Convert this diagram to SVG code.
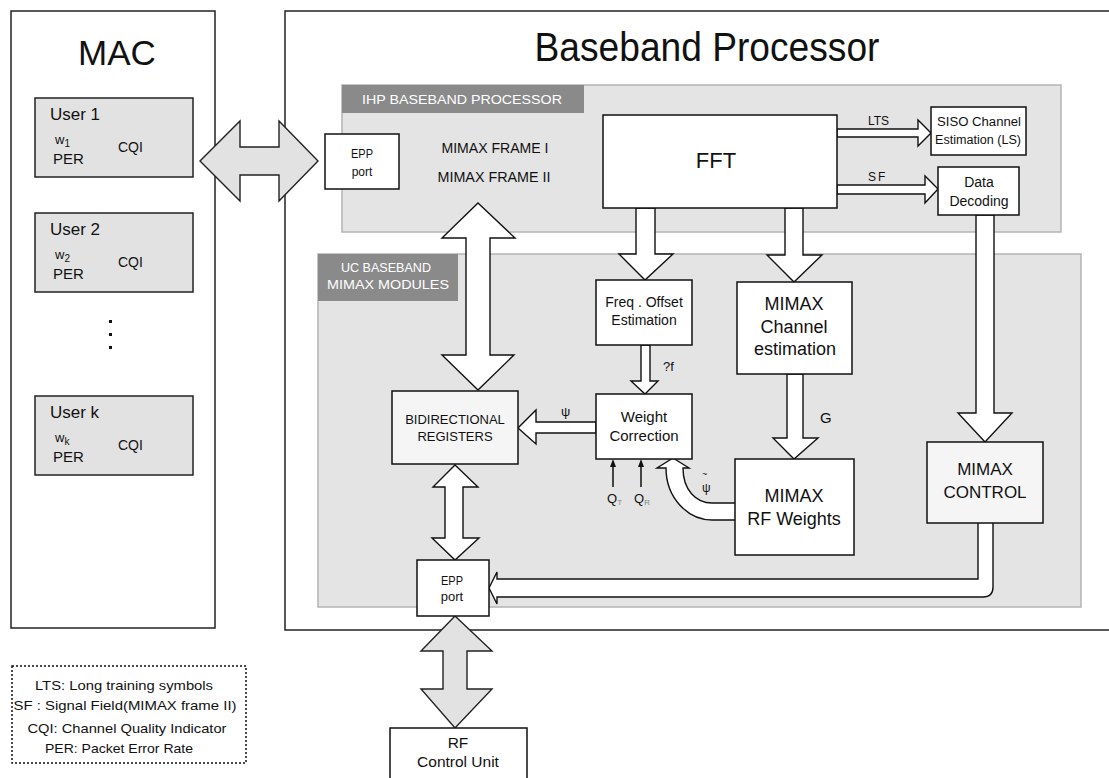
<svg xmlns="http://www.w3.org/2000/svg" width="1109" height="778" viewBox="0 0 1109 778">
  <style>
    text { font-family: "Liberation Sans", Arial, sans-serif; fill: #111; }
    .box { fill: #fff; stroke: #111; stroke-width: 1.5; }
    .soft { fill: #f5f5f5; stroke: #111; stroke-width: 1.5; }
    .user { fill: #e2e2e2; stroke: #222; stroke-width: 1.5; }
    .panel { fill: #e4e4e4; stroke: #b4b4b4; stroke-width: 1.5; }
    .band { fill: #8a8a8a; }
    .band-t { fill: #fff; font-size: 13px; }
    .arrow { fill: #fff; stroke: #111; stroke-width: 1.4; stroke-linejoin: miter; }
    .garrow { fill: #e2e2e2; stroke: #222; stroke-width: 1.4; }
    .c { text-anchor: middle; }
  </style>
  <defs>
    <marker id="tip" markerWidth="8" markerHeight="8" refX="4" refY="4" orient="auto" markerUnits="userSpaceOnUse">
      <path d="M0,1 L8,4 L0,7 Z" fill="#111"/>
    </marker>
  </defs>

  <!-- MAC column -->
  <g id="mac">
    <rect x="11" y="11" width="204" height="617" fill="#fff" stroke="#222" stroke-width="1.5"/>
    <text x="117" y="65" class="c" font-size="35">MAC</text>
  </g>
  <g id="user1">
    <rect class="user" x="35" y="98" width="158" height="79"/>
    <text x="50" y="120" font-size="17">User 1</text>
    <text x="55" y="144" font-size="13">w<tspan font-size="10" dy="3">1</tspan></text>
    <text x="53" y="164" font-size="15">PER</text>
    <text x="118" y="152" font-size="14">CQI</text>
  </g>
  <g id="user2">
    <rect class="user" x="35" y="213" width="158" height="79"/>
    <text x="50" y="235" font-size="17">User 2</text>
    <text x="55" y="259" font-size="13">w<tspan font-size="10" dy="3">2</tspan></text>
    <text x="53" y="279" font-size="15">PER</text>
    <text x="118" y="267" font-size="14">CQI</text>
  </g>
  <g id="ellipsis" fill="#111">
    <rect x="109" y="320" width="3" height="3"/>
    <rect x="109" y="333" width="3" height="3"/>
    <rect x="109" y="346" width="3" height="3"/>
  </g>
  <g id="userk">
    <rect class="user" x="35" y="396" width="158" height="79"/>
    <text x="50" y="418" font-size="17">User k</text>
    <text x="55" y="442" font-size="13">w<tspan font-size="10" dy="3">k</tspan></text>
    <text x="53" y="462" font-size="15">PER</text>
    <text x="118" y="450" font-size="14">CQI</text>
  </g>

  <!-- Baseband processor frame -->
  <g id="baseband">
    <rect x="285" y="11" width="900" height="619" fill="#fff" stroke="#222" stroke-width="1.5"/>
    <text x="707" y="61" class="c" font-size="40" textLength="345" lengthAdjust="spacingAndGlyphs">Baseband Processor</text>
  </g>
  <g id="ihp-panel">
    <rect class="panel" x="342" y="85" width="719" height="147"/>
    <rect class="band" x="342" y="85" width="242" height="28"/>
    <text class="band-t" x="362" y="104" textLength="200" lengthAdjust="spacingAndGlyphs">IHP BASEBAND PROCESSOR</text>
    <text x="495" y="153" class="c" font-size="14" textLength="107" lengthAdjust="spacingAndGlyphs">MIMAX FRAME I</text>
    <text x="494" y="182" class="c" font-size="14" textLength="113" lengthAdjust="spacingAndGlyphs">MIMAX FRAME II</text>
  </g>
  <g id="uc-panel">
    <rect class="panel" x="318" y="254" width="763" height="353"/>
    <rect class="band" x="318" y="254" width="140" height="47"/>
    <text class="band-t c" x="386" y="272" textLength="90" lengthAdjust="spacingAndGlyphs">UC BASEBAND</text>
    <text class="band-t c" x="388" y="289" textLength="122" lengthAdjust="spacingAndGlyphs">MIMAX MODULES</text>
  </g>

  <!-- Connectors -->
  <g id="connectors">
    <!-- MAC <-> EPP port -->
    <polygon class="garrow" points="200,161 240,121 240,147 279,147 279,121 318,161 279,201 279,175 240,175 240,201"/>
    <!-- EPP port (IHP) <-> bidirectional registers -->
    <polygon class="arrow" points="478,203 515,238 490,238 490,355 514,355 478,390 442,355 466,355 466,238 442,238"/>
    <!-- FFT -> LTS -> SISO -->
    <polygon class="arrow" points="837,129 918,129 918,120 931,133 918,146 918,137 837,137"/>
    <!-- FFT -> SF -> data decoding -->
    <polygon class="arrow" points="837,185 925,185 925,176 938,189 925,203 925,194 837,194"/>
    <!-- FFT -> freq offset -->
    <polygon class="arrow" points="636,208 655,208 655,254 673,254 645,280 619,254 636,254"/>
    <!-- FFT -> MIMAX channel estimation -->
    <polygon class="arrow" points="785,208 803,208 803,255 822,255 794,282 767,255 785,255"/>
    <!-- data decoding -> MIMAX control -->
    <polygon class="arrow" points="976,215 994,215 994,413 1012,413 985,442 958,413 976,413"/>
    <!-- freq offset -> weight correction -->
    <polygon class="arrow" points="641,345 650,345 650,381 658,381 645,394 631,381 641,381"/>
    <!-- channel estimation -> RF weights -->
    <polygon class="arrow" points="787,374 803,374 803,438 818,438 794,459 773,438 787,438"/>
    <!-- weight correction -> bidirectional registers -->
    <polygon class="arrow" points="596,422 536,422 536,410 518,428 536,444 536,433 596,433"/>
    <!-- RF weights -> weight correction (curved) -->
    <path class="arrow" d="M735,503 L712,503 C696,503 683,490 683,468 L689,468 L673,458 L657,468 L666,468 C666,498 688,520 712,520 L735,520"/>
    <!-- bidirectional registers <-> EPP port (bottom) -->
    <polygon class="arrow" points="455,465 478,487 463,487 463,538 479,538 455,560 432,538 445,538 445,487 433,487"/>
    <!-- MIMAX control -> EPP port (bottom) -->
    <path class="arrow" d="M978,523 L978,579 L497,579 L497,572 L489,588 L497,604 L497,597 L983,597 Q993,597 993,587 L993,523"/>
    <!-- EPP port <-> RF control unit -->
    <polygon class="garrow" points="455,616 492,651 467,651 467,689 492,689 455,728 421,689 443,689 443,651 421,651"/>
    <!-- quantisation inputs -->
    <line x1="613" y1="487" x2="613" y2="463" stroke="#111" stroke-width="1.5" marker-end="url(#tip)"/>
    <line x1="641" y1="487" x2="641" y2="463" stroke="#111" stroke-width="1.5" marker-end="url(#tip)"/>
    <!-- connector labels -->
    <text x="868" y="125" font-size="12">LTS</text>
    <text x="868" y="181" font-size="12" letter-spacing="2">SF</text>
    <text x="663" y="371" font-size="13">?f</text>
    <text x="820" y="423" font-size="15">G</text>
    <text x="561" y="416" font-size="13" font-family="DejaVu Serif, serif">ψ</text>
    <text x="702" y="492" font-size="12" font-family="DejaVu Serif, serif">ψ</text>
    <text x="702" y="477" font-size="9" font-family="DejaVu Sans, sans-serif">~</text>
    <text x="607" y="503" font-size="13" fill="#333">Q<tspan font-size="8" dy="2" fill="#888">T</tspan></text>
    <text x="634" y="503" font-size="13" fill="#333">Q<tspan font-size="8" dy="2" fill="#888">R</tspan></text>
  </g>

  <!-- Blocks -->
  <g id="epp-top">
    <rect class="box" x="325" y="134" width="74" height="55"/>
    <text x="362" y="158" class="c" font-size="12" textLength="22" lengthAdjust="spacingAndGlyphs">EPP</text>
    <text x="362" y="176" class="c" font-size="12">port</text>
  </g>
  <g id="fft">
    <rect class="box" x="603" y="115" width="234" height="93"/>
    <text x="716" y="168" class="c" font-size="22">FFT</text>
  </g>
  <g id="siso">
    <rect class="box" x="931" y="107" width="95" height="48"/>
    <text x="979" y="126" class="c" font-size="12" textLength="84" lengthAdjust="spacingAndGlyphs">SISO Channel</text>
    <text x="978" y="144" class="c" font-size="12" textLength="86" lengthAdjust="spacingAndGlyphs">Estimation (LS)</text>
  </g>
  <g id="data-decoding">
    <rect class="box" x="938" y="167" width="81" height="48"/>
    <text x="979" y="187" class="c" font-size="14">Data</text>
    <text x="979" y="206" class="c" font-size="14">Decoding</text>
  </g>
  <g id="freq-offset">
    <rect class="box" x="596" y="280" width="96" height="65"/>
    <text x="644" y="307" class="c" font-size="14">Freq . Offset</text>
    <text x="644" y="325" class="c" font-size="14">Estimation</text>
  </g>
  <g id="channel-estimation">
    <rect class="box" x="737" y="282" width="115" height="92"/>
    <text x="794" y="310" class="c" font-size="18">MIMAX</text>
    <text x="794" y="333" class="c" font-size="18">Channel</text>
    <text x="795" y="355" class="c" font-size="18">estimation</text>
  </g>
  <g id="bidirectional-registers">
    <rect class="soft" x="392" y="391" width="126" height="73"/>
    <text x="455" y="424" class="c" font-size="13">BIDIRECTIONAL</text>
    <text x="455" y="441" class="c" font-size="13">REGISTERS</text>
  </g>
  <g id="weight-correction">
    <rect class="box" x="596" y="394" width="96" height="65"/>
    <text x="644" y="422" class="c" font-size="15">Weight</text>
    <text x="644" y="441" class="c" font-size="15">Correction</text>
  </g>
  <g id="rf-weights">
    <rect class="box" x="735" y="459" width="119" height="96"/>
    <text x="794" y="502" class="c" font-size="18">MIMAX</text>
    <text x="794" y="525" class="c" font-size="18">RF Weights</text>
  </g>
  <g id="mimax-control">
    <rect class="soft" x="927" y="442" width="116" height="81"/>
    <text x="985" y="475" class="c" font-size="17">MIMAX</text>
    <text x="985" y="498" class="c" font-size="17">CONTROL</text>
  </g>
  <g id="epp-bottom">
    <rect class="box" x="417" y="560" width="72" height="56"/>
    <text x="452" y="585" class="c" font-size="12" textLength="22" lengthAdjust="spacingAndGlyphs">EPP</text>
    <text x="452" y="601" class="c" font-size="13">port</text>
  </g>
  <g id="rf-control-unit">
    <rect class="box" x="390" y="728" width="137" height="70"/>
    <text x="458" y="748" class="c" font-size="15.5">RF</text>
    <text x="458" y="767" class="c" font-size="15.5">Control Unit</text>
  </g>

  <!-- Abbreviation legend -->
  <g id="legend">
    <rect x="12" y="666" width="234" height="97" fill="#fff" stroke="#111" stroke-width="1.5" stroke-dasharray="2 2"/>
    <text x="124" y="690" class="c" font-size="13" textLength="178" lengthAdjust="spacingAndGlyphs">LTS: Long training symbols</text>
    <text x="125" y="710" class="c" font-size="13" textLength="223" lengthAdjust="spacingAndGlyphs">SF : Signal Field(MIMAX frame II)</text>
    <text x="127" y="733" class="c" font-size="13" textLength="199" lengthAdjust="spacingAndGlyphs">CQI: Channel Quality Indicator</text>
    <text x="119" y="753" class="c" font-size="13" textLength="148" lengthAdjust="spacingAndGlyphs">PER: Packet Error Rate</text>
  </g>
</svg>
